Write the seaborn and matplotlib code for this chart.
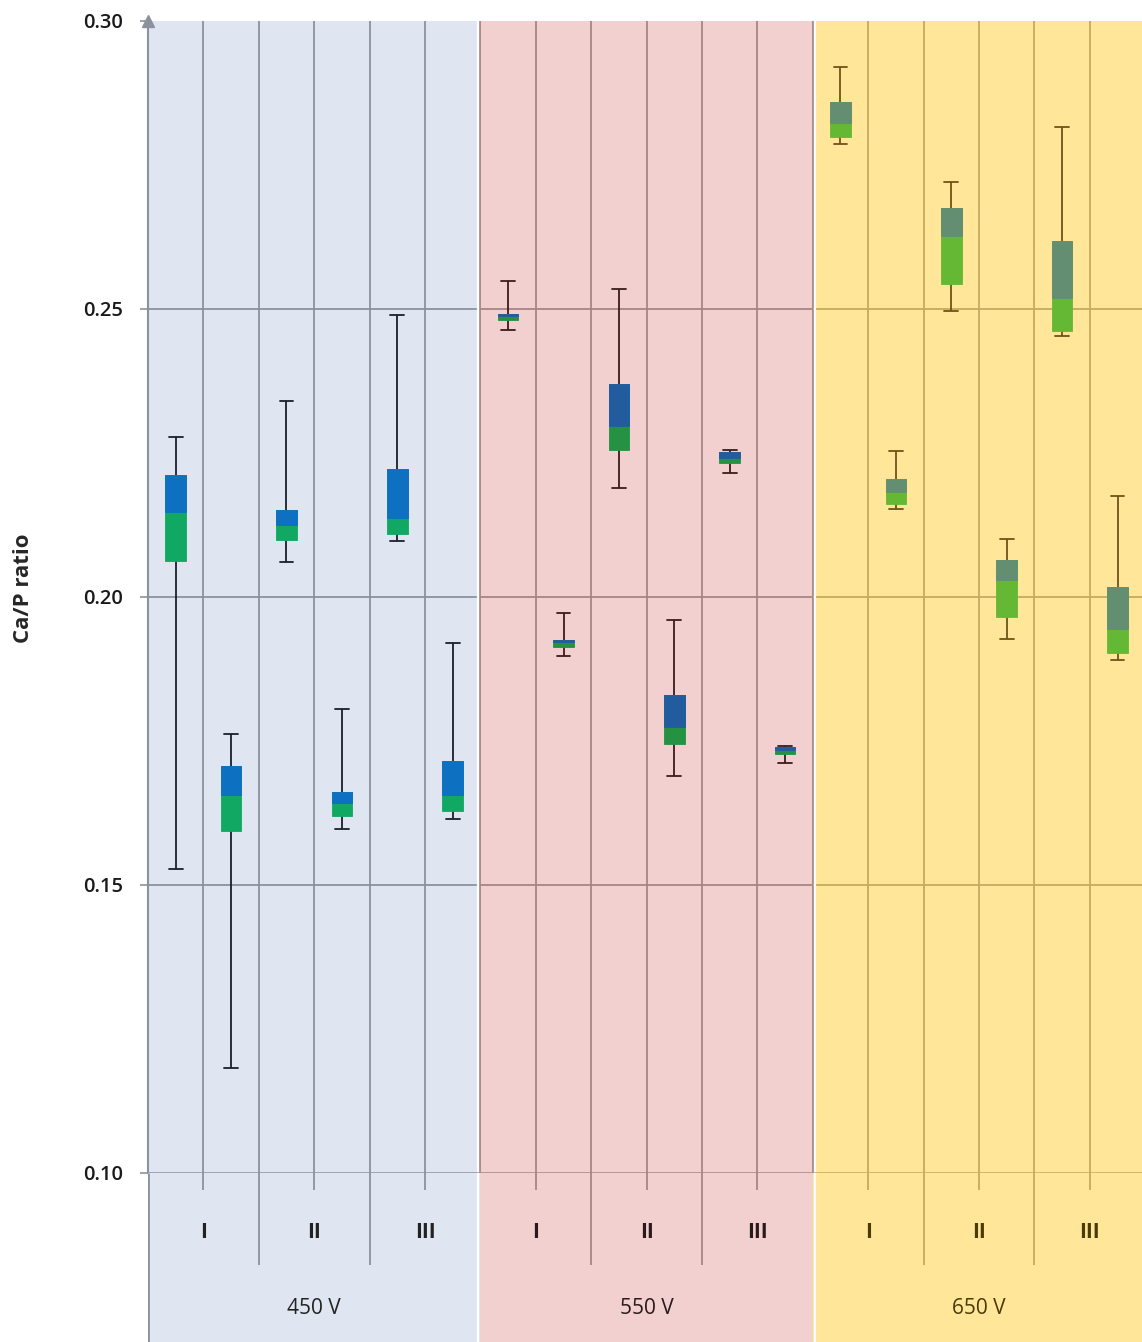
import numpy as np
import pandas as pd
import seaborn as sns
import matplotlib.pyplot as plt

# five-number summaries, one entry per box (left to right)
panels = ['450 V', '550 V', '650 V']
groups = ['I', 'II', 'III']
whisker_low = [0.1528, 0.1182, 0.2061, 0.1597, 0.2097, 0.1614,
               0.2463, 0.1898, 0.2189, 0.1689, 0.2215, 0.1712,
               0.2786, 0.2152, 0.2497, 0.1927, 0.2453, 0.1891]
q1 = [0.2063, 0.1593, 0.2099, 0.1619, 0.2109, 0.1629,
      0.2481, 0.1913, 0.2256, 0.1744, 0.2233, 0.1727,
      0.2799, 0.2162, 0.2543, 0.1965, 0.2462, 0.1903]
median = [0.2148, 0.1657, 0.2125, 0.1642, 0.2138, 0.1657,
          0.2487, 0.1922, 0.2297, 0.1775, 0.2242, 0.1734,
          0.2823, 0.2183, 0.2627, 0.2029, 0.2519, 0.1944]
q3 = [0.2212, 0.1707, 0.2151, 0.1661, 0.2223, 0.1716,
      0.2491, 0.1925, 0.2370, 0.1830, 0.2252, 0.1739,
      0.2860, 0.2205, 0.2676, 0.2065, 0.2618, 0.2018]
whisker_high = [0.2278, 0.1763, 0.2340, 0.1806, 0.2490, 0.1921,
                0.2548, 0.1973, 0.2535, 0.1960, 0.2255, 0.1741,
                0.2921, 0.2253, 0.2721, 0.2100, 0.2816, 0.2175]
yticks = [0.10, 0.15, 0.20, 0.25, 0.30]

bg_colors = ['#dfe6f1', '#f2d0d0', '#ffe699']
low_colors = ['#10a862', '#249242', '#64b833']
up_colors = ['#0e70c0', '#225c9e', '#638e72']
line_colors = ['#1b1f2a', '#3a1c1c', '#6b5417']
grid_colors = ['#8c929d', '#a88585', '#c4ab5e']
text_colors = ['#222222', '#2a1a1a', '#4a3a05']

n_per_panel = 2 * len(groups)
n_boxes = len(whisker_low)
slots = np.arange(n_boxes)

rows = []
for i in range(n_boxes):
    for v in (whisker_low[i], q1[i], median[i], q3[i], whisker_high[i]):
        rows.append({'slot': i, 'panel': panels[i // n_per_panel], 'value': v})
df = pd.DataFrame(rows)

sns.set_style('white')
plt.rcParams['font.family'] = ['Open Sans', 'DejaVu Sans']

W, H = 1142, 1342
fig = plt.figure(figsize=(W / 100, H / 100), dpi=100)
left, top, bottom_px = 148, 21, 1173
slot_px = 55.4
ax_w = slot_px * n_boxes
ax = fig.add_axes([left / W, (H - bottom_px) / H, ax_w / W, (bottom_px - top) / H])
axl = fig.add_axes([left / W, 0, ax_w / W, (H - bottom_px) / H])

for a in (ax, axl):
    a.set_xlim(-0.5, n_boxes - 0.5)
    for p in range(len(panels)):
        a.axvspan(p * n_per_panel - 0.5, (p + 1) * n_per_panel - 0.5,
                  color=bg_colors[p], lw=0, zorder=0)

# vertical / horizontal grid in plot area
for p in range(len(panels)):
    for k in range(n_per_panel):
        xb = p * n_per_panel + k + 0.5
        if k == n_per_panel - 1 and p == len(panels) - 1:
            continue
        col = grid_colors[p] if k < n_per_panel - 1 else grid_colors[1]
        ax.axvline(xb, color=col, lw=1.3, zorder=1)
    ax.hlines(yticks[1:-1], p * n_per_panel - 0.5, (p + 1) * n_per_panel - 0.5,
              color=grid_colors[p], lw=1.3, zorder=1)
    ax.hlines(yticks[0], p * n_per_panel - 0.5, (p + 1) * n_per_panel - 0.5,
              color=grid_colors[p], lw=1.8, zorder=3, clip_on=False)

for xb in (n_per_panel - 0.5, 2 * n_per_panel - 0.5):
    for a in (ax, axl):
        a.axvline(xb + (-0.04 if xb < n_per_panel else 0.04), color='white', lw=1.6, zorder=2)

# boxes via seaborn (5 points -> exact quartiles, whiskers at min/max)
for p, name in enumerate(panels):
    sub = df[df.panel == name]
    sns.boxplot(data=sub, x='slot', y='value', native_scale=True, ax=ax,
                whis=(0, 100), width=0.37, color=low_colors[p], saturation=1,
                linecolor=line_colors[p], linewidth=1.3, showfliers=False,
                capwidths=0.25,
                medianprops={'linewidth': 0},
                boxprops={'edgecolor': low_colors[p], 'linewidth': 0.6, 'zorder': 4},
                whiskerprops={'zorder': 3}, capprops={'zorder': 3})
    idx = slots[p * n_per_panel:(p + 1) * n_per_panel]
    ax.bar(idx, np.array(q3)[idx] - np.array(median)[idx], bottom=np.array(median)[idx],
           width=0.37, color=up_colors[p], edgecolor=up_colors[p], lw=0.6, zorder=5)

ax.set_ylim(yticks[0], yticks[-1])
ax.set_xlim(-0.5, n_boxes - 0.5)
ax.set_yticks(yticks)
ax.set_yticklabels([f'{t:.2f}' for t in yticks], fontsize=14.5,
                   fontweight='semibold', color='#1a1a1a')
ax.tick_params(axis='y', length=6, width=1.2, color='#8c929d', pad=12, left=True)
ax.set_xticks([])
ax.set_xlabel('')
ax.set_ylabel('Ca/P ratio', fontsize=16, fontweight='bold')
ax.yaxis.set_label_coords((34 - left) / ax_w, (bottom_px - 588) / (bottom_px - top))
for s in ('top', 'right', 'bottom'):
    ax.spines[s].set_visible(False)
ax.spines['left'].set_color('#8c929d')
ax.spines['left'].set_linewidth(1.5)
ax.spines['left'].set_zorder(6)
ax.plot(0, 1, marker='^', color='#8c929d', ms=8, transform=ax.transAxes,
        clip_on=False, zorder=7)

# category label area
axl.set_ylim(H - bottom_px, 0)
axl.axis('off')
for p, name in enumerate(panels):
    base = p * n_per_panel
    for g, gname in enumerate(groups):
        xc = base + 2 * g + 0.5
        axl.vlines(xc, 0, 17, color=grid_colors[p], lw=1.3)
        axl.text(xc, 60, gname, ha='center', va='center', fontsize=15,
                 fontweight='bold', color=text_colors[p])
        if g < len(groups) - 1:
            axl.vlines(xc + 1, 0, 92, color=grid_colors[p], lw=1.3)
    axl.text(base + n_per_panel / 2 - 0.5, 135, name, ha='center', va='center',
             fontsize=15, color=text_colors[p])
axl.vlines(-0.5, 0, H - bottom_px, color='#8c929d', lw=2)

fig.savefig('out.png', dpi=100)
